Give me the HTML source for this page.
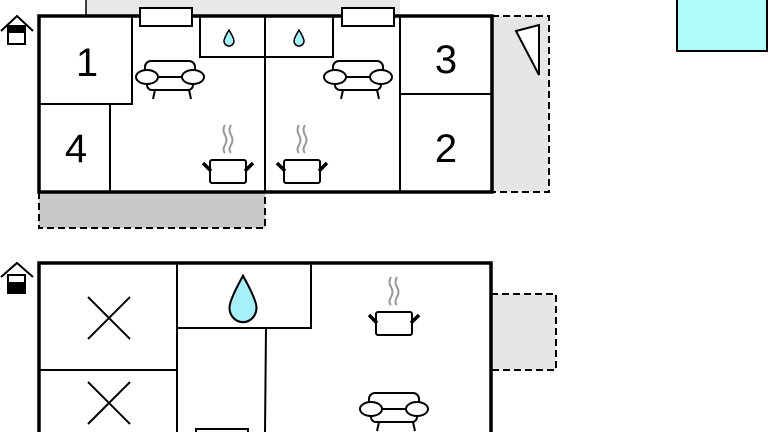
<!DOCTYPE html>
<html><head><meta charset="utf-8"><style>html,body{margin:0;padding:0;background:#fff}svg{display:block}</style></head>
<body>
<svg width="768" height="432" viewBox="0 0 768 432" xmlns="http://www.w3.org/2000/svg">
<defs>
<g id="sofa" fill="#fff" stroke="#000" stroke-width="2">
<line x1="-15" y1="10" x2="-17" y2="19"/><line x1="19" y1="10" x2="21" y2="19"/>
<rect x="-25" y="-19" width="50" height="19" rx="6"/>
<rect x="-23" y="-3" width="46" height="13" rx="5"/>
<ellipse cx="-23" cy="-3" rx="11" ry="7"/><ellipse cx="23" cy="-3" rx="11" ry="7"/>
</g>
<g id="pot">
<path d="M-3,-45 q-3,5 0,10 q3,5 0,10 q-3,5 0,8 M3,-45 q-3,5 0,10 q3,5 0,10 q-3,5 0,8" fill="none" stroke="#999" stroke-width="2"/>
<rect x="-18" y="-10" width="36" height="23" rx="2" fill="#fff" stroke="#000" stroke-width="2"/>
<line x1="-25" y1="-7" x2="-17" y2="1" stroke="#000" stroke-width="3.5"/>
<line x1="25" y1="-7" x2="17" y2="1" stroke="#000" stroke-width="3.5"/>
</g>
<path id="drop" d="M0,-8 C-3,-3 -5,1 -5,3 A5,5 0 0 0 5,3 C5,1 3,-3 0,-8Z" fill="#a8f0f8" stroke="#000" stroke-width="1.5"/>
<path id="drop2" d="M0,-8 C-3,-3 -5,1 -5,3 A5,5 0 0 0 5,3 C5,1 3,-3 0,-8Z" fill="#a8f0f8" stroke="#000" stroke-width="0.75"/>
</defs>
<!-- top building -->
<rect x="86" y="0" width="314" height="16" fill="#e8e8e8"/>
<line x1="86" y1="0" x2="86" y2="16" stroke="#000" stroke-width="1.5"/>
<rect x="492" y="16" width="57" height="176" fill="#e6e6e6" stroke="#000" stroke-width="2" stroke-dasharray="7,4"/>
<polygon points="516,31 539,25 539,75" fill="#fff" stroke="#000" stroke-width="2"/>
<rect x="39" y="192" width="226" height="36" fill="#c8c8c8" stroke="#000" stroke-width="2" stroke-dasharray="7,4"/>
<rect x="39" y="16" width="453" height="176" fill="#fff" stroke="#000" stroke-width="3.5"/>
<g fill="none" stroke="#000" stroke-width="2">
<path d="M39,104 H132 V16"/><path d="M110,104 V192"/><path d="M265,16 V192"/>
<rect x="200" y="16" width="65" height="41"/><rect x="265" y="16" width="68" height="41"/>
<path d="M400,16 V192 M400,94 H492"/>
</g>
<rect x="140" y="8" width="52" height="18" fill="#fff" stroke="#000" stroke-width="2"/>
<rect x="342" y="8" width="52" height="18" fill="#fff" stroke="#000" stroke-width="2"/>
<use href="#drop" x="229" y="38"/><use href="#drop" x="299" y="38"/>
<use href="#sofa" x="170" y="80"/><use href="#sofa" x="358" y="80"/>
<use href="#pot" x="228" y="170"/><use href="#pot" x="302" y="170"/>
<g font-family="Liberation Sans, sans-serif" font-size="40" text-anchor="middle">
<text x="87" y="76">1</text><text x="76" y="162">4</text><text x="446" y="73">3</text><text x="446" y="162">2</text>
</g>
<!-- house icons -->
<g fill="none" stroke="#000" stroke-width="2">
<path d="M1,31 L17,16 L33,31"/><rect x="8" y="26" width="17" height="18" fill="#fff"/>
<path d="M1,277 L17,263 L33,277"/><rect x="8" y="275" width="17" height="18" fill="#fff"/>
</g>
<rect x="8" y="26" width="17" height="7" fill="#000"/>
<rect x="8" y="282" width="17" height="11" fill="#000"/>
<!-- cyan box -->
<rect x="677" y="-2" width="90" height="53" fill="#b0fcfc" stroke="#000" stroke-width="2"/>
<!-- bottom building -->
<rect x="491" y="294" width="65" height="76" fill="#e6e6e6" stroke="#000" stroke-width="2" stroke-dasharray="7,4"/>
<rect x="39" y="263" width="452" height="180" fill="#fff" stroke="#000" stroke-width="3.5"/>
<g fill="none" stroke="#000" stroke-width="2">
<path d="M177,263 V432 M39,370 H177"/>
<rect x="177" y="263" width="134" height="65"/>
<path d="M266,328 L265,432"/>
<rect x="196" y="429" width="52" height="10"/>
<path d="M88,297 L130,339 M130,297 L88,339 M88,382 L130,424 M130,382 L88,424"/>
</g>
<use href="#drop2" transform="translate(243,299) scale(2.7,2.9)"/>
<use href="#pot" x="394" y="322"/>
<use href="#sofa" x="394" y="412"/>
</svg>
</body></html>
